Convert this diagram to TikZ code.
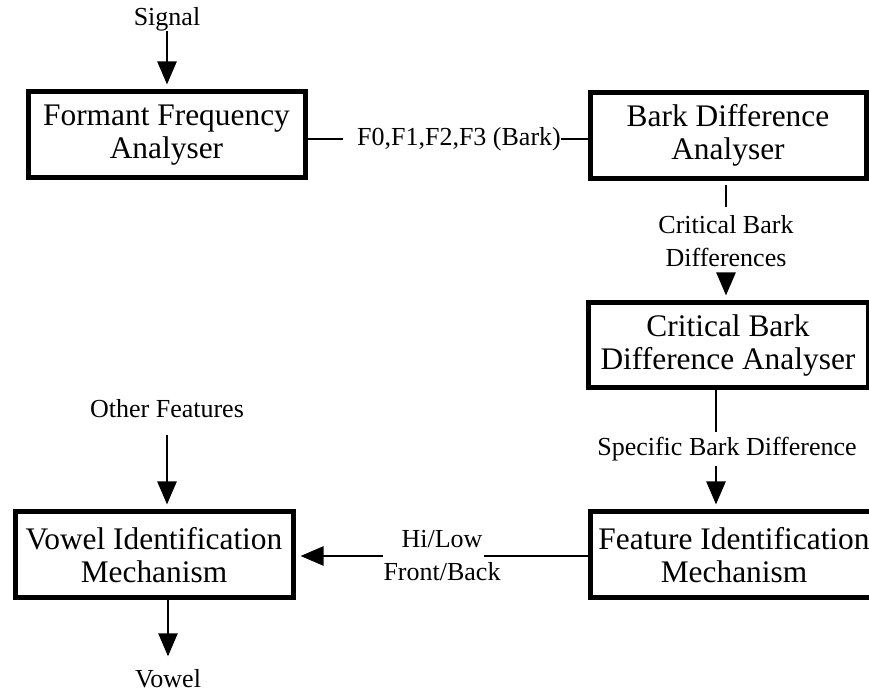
\documentclass[tikz,border=0pt]{standalone}
\usepackage{fontspec}
\setmainfont{Liberation Serif}
\usetikzlibrary{arrows.meta}
\tikzset{
  box/.style={draw,line width=2.5pt,inner sep=0pt,minimum height=43pt,align=center,font=\fontsize{15.7}{16.5}\selectfont},
  lbl/.style={inner sep=0pt,align=center,font=\fontsize{13}{16.5}\selectfont},
  ln/.style={line width=1.2pt},
  arr/.style={ln,-{Triangle[length=11.5pt,width=9.5pt]},shorten >=2.5pt}
}
\begin{document}
\begin{tikzpicture}[x=0.5pt,y=-0.5pt]
\useasboundingbox (0,0) rectangle (869,694);
\node[box,minimum width=138.5pt](ffa)at(166.5,135){Formant Frequency\\Analyser};
\node[box,minimum width=138pt](bda)at(728,135.5){Bark Difference\\Analyser};
\node[box,minimum width=140pt,minimum height=42.5pt](cbda)at(728,345.5){Critical Bark\\Difference Analyser};
\node[box,minimum width=144pt](fim)at(734,555){Feature Identification\\Mechanism};
\node[box,minimum width=139pt](vim)at(154,555){Vowel Identification\\Mechanism};
\node[lbl](signal)at(167,19){Signal};
\node[lbl](f0)at(459,139){F0,F1,F2,F3 (Bark)};
\node[lbl,inner ysep=4pt](cbd)at(726,241){Critical Bark\\Differences};
\node[lbl,inner ysep=2.5pt](sbd)at(727,449){Specific Bark Difference};
\node[lbl](hfb)at(442,556){Hi/Low\\Front/Back};
\node[lbl,inner ysep=8pt](of)at(167,409){Other Features};
\node[lbl,inner ysep=6.5pt](vowel)at(168,679){Vowel};
\coordinate(sx)at(716,0);
\draw[arr](signal.south)--(signal.south |- ffa.north);
\draw[ln](ffa.east |- f0.west)--([xshift=-7pt]f0.west)(f0.east)--(bda.west |- f0.east);
\draw[ln,shorten <=2pt](bda.south -| cbd.north)--(cbd.north);
\draw[arr](cbd.south)--(cbd.south |- cbda.north);
\draw[ln](cbda.south -| sx)--(sbd.north -| sx);
\draw[arr](sbd.south -| sx)--(fim.north -| sx);
\draw[ln](fim.west |- hfb.east)--([xshift=-8.5pt]hfb.east);
\draw[arr](hfb.west)--(vim.east |- hfb.west);
\draw[arr](of.south)--(of.south |- vim.north);
\draw[arr,shorten >=0pt](vowel.north |- vim.south)--(vowel.north);
\end{tikzpicture}
\end{document}
